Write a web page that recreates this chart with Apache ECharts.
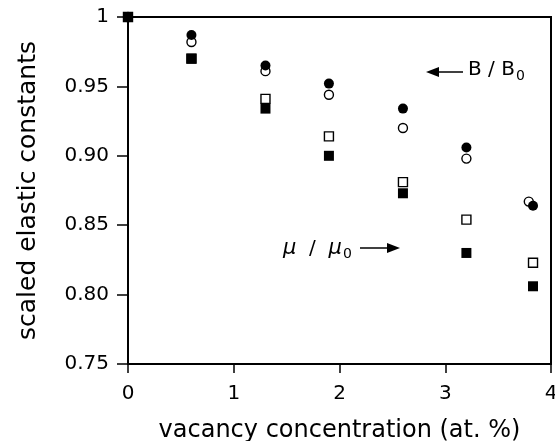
<!DOCTYPE html>
<html>
<head>
<meta charset="utf-8">
<script src="https://cdn.jsdelivr.net/npm/echarts@6/dist/echarts.min.js"></script>
<style>
html,body{margin:0;padding:0;background:#fff;}
#c{width:555px;height:441px;}
</style>
</head>
<body>
<div id="c"></div>
<script>
// Data
const xBFilled = [0, 0.6, 1.3, 1.9, 2.6, 3.2, 3.83];
const yBFilled = [1.0, 0.987, 0.965, 0.952, 0.934, 0.906, 0.864];
const xBOpen = [0, 0.6, 1.3, 1.9, 2.6, 3.2, 3.79];
const yBOpen = [1.0, 0.982, 0.961, 0.944, 0.920, 0.898, 0.867];
const xMuOpen = [0, 0.6, 1.3, 1.9, 2.6, 3.2, 3.83];
const yMuOpen = [1.0, 0.970, 0.941, 0.914, 0.881, 0.854, 0.823];
const xMuFilled = [0, 0.6, 1.3, 1.9, 2.6, 3.2, 3.83];
const yMuFilled = [1.0, 0.970, 0.934, 0.900, 0.873, 0.830, 0.806];
const xTicks = [0, 1, 2, 3, 4];
const yTicks = [0.75, 0.80, 0.85, 0.90, 0.95, 1.0];

const zip = (xs, ys) => xs.map((x, i) => [x, ys[i]]);
const FONT = 'DejaVu Sans';

const chart = echarts.init(document.getElementById('c'), null, {renderer: 'canvas'});
chart.setOption({
  animation: false,
  backgroundColor: '#fff',
  grid: {left: 128, top: 17, right: 4, bottom: 77, outerBoundsMode: 'none', containLabel: false,
    show: true, borderColor: '#000', borderWidth: 2, backgroundColor: 'transparent'},
  xAxis: {
    type: 'value', min: 0, max: 4, interval: 1,
    name: 'vacancy concentration (at. %)', nameLocation: 'middle', nameGap: 55,
    nameTextStyle: {fontFamily: FONT, fontSize: 24, color: '#000'},
    axisLine: {lineStyle: {color: '#000', width: 2}},
    axisTick: {show: true, inside: false, length: 9, lineStyle: {color: '#000', width: 1.5}},
    axisLabel: {fontFamily: FONT, fontSize: 20, color: '#000', margin: 20,
      formatter: v => xTicks.includes(v) ? String(v) : ''},
    splitLine: {show: false}
  },
  yAxis: {
    type: 'value', min: 0.75, max: 1.0, interval: 0.05,
    name: 'scaled elastic constants', nameLocation: 'middle', nameGap: 87,
    nameTextStyle: {fontFamily: FONT, fontSize: 25, color: '#000'},
    axisLine: {lineStyle: {color: '#000', width: 2}},
    axisTick: {show: true, inside: false, length: 11, lineStyle: {color: '#000', width: 1.5}},
    axisLabel: {fontFamily: FONT, fontSize: 20, color: '#000', margin: 19,
      formatter: v => {
        const t = yTicks.find(k => Math.abs(k - v) < 1e-6);
        if (t === undefined) return '';
        return t === 1 ? '1' : t.toFixed(2);
      }},
    splitLine: {show: false}
  },
  series: [
    {type: 'scatter', name: 'B open', data: zip(xBOpen, yBOpen), symbol: 'circle', symbolSize: 9,
      itemStyle: {color: '#fff', borderColor: '#000', borderWidth: 1.4, opacity: 1}, z: 3},
    {type: 'scatter', name: 'B filled', data: zip(xBFilled, yBFilled), symbol: 'circle', symbolSize: 10,
      itemStyle: {color: '#000', opacity: 1}, z: 4},
    {type: 'scatter', name: 'mu open', data: zip(xMuOpen, yMuOpen), symbol: 'rect', symbolSize: 9,
      itemStyle: {color: '#fff', borderColor: '#000', borderWidth: 1.4, opacity: 1}, z: 3},
    {type: 'scatter', name: 'mu filled', data: zip(xMuFilled, yMuFilled), symbol: 'rect', symbolSize: 10,
      itemStyle: {color: '#000', opacity: 1}, z: 4}
  ],
  graphic: [
    // B / B0 annotation
    {type: 'line', shape: {x1: 432, y1: 72, x2: 463, y2: 72}, style: {stroke: '#000', lineWidth: 1.5}},
    {type: 'polygon', shape: {points: [[426, 72], [439, 67], [439, 77]]}, style: {fill: '#000'}},
    {type: 'text', left: 468, top: 60, style: {
      rich: {n: {fontFamily: FONT, fontSize: 20, fill: '#000'}, s: {fontFamily: FONT, fontSize: 14, fill: '#000', padding: [12, 0, 0, 1]}},
      text: '{n|B / B}{s|0}'
    }},
    // mu / mu0 annotation
    {type: 'text', left: 283, top: 238, style: {
      rich: {n: {fontFamily: FONT, fontSize: 21, fontStyle: 'italic', fill: '#000'}, m: {fontFamily: FONT, fontSize: 20, fill: '#000'}, s: {fontFamily: FONT, fontSize: 14, fill: '#000', padding: [12, 0, 0, 1]}},
      text: '{n|μ}{m|  /  }{n|μ}{s|0}'
    }},
    {type: 'line', shape: {x1: 360, y1: 248, x2: 392, y2: 248}, style: {stroke: '#000', lineWidth: 1.5}},
    {type: 'polygon', shape: {points: [[400, 248], [387, 243], [387, 253]]}, style: {fill: '#000'}}
  ]
});
</script>
</body>
</html>
